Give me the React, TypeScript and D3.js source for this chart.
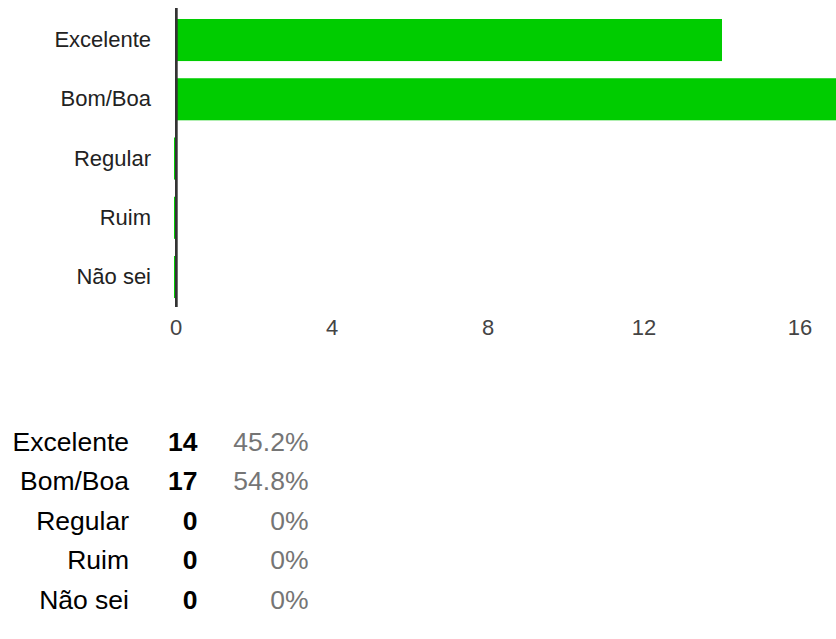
import React from "react";
import * as d3 from "d3";

const categories = ["Excelente", "Bom/Boa", "Regular", "Ruim", "Não sei"];
const counts = [14, 17, 0, 0, 0];
const percents = ["45.2%", "54.8%", "0%", "0%", "0%"];
const ticks = [0, 4, 8, 12, 16];

const W = 836;
const H = 639;
const font = "Arial, 'Liberation Sans', sans-serif";

const App = () => {
  const x = d3.scaleLinear().domain([0, 16]).range([176, 800]);
  const y = d3
    .scaleBand<string>()
    .domain(categories)
    .range([10.4, 306.65])
    .paddingInner(0.29)
    .paddingOuter(0.145);
  const rowY = d3
    .scalePoint<string>()
    .domain(categories)
    .range([451, 608.5]);

  return (
    <svg
      width={W}
      height={H}
      style={{ position: "absolute", left: 0, top: 0, display: "block" }}
      fontFamily={font}
    >
      <rect width={W} height={H} fill="white" />
      {categories.map((c, i) => {
        const v = counts[i];
        const by = y(c) as number;
        const bx = v === 0 ? x(0) - 2 : x(0);
        const bw = v === 0 ? 1.2 : x(v) - x(0);
        return (
          <g key={c}>
            <rect x={bx} y={by} width={bw} height={y.bandwidth()} fill="#00cc00" />
            <text
              x={151}
              y={by + y.bandwidth() / 2 + 7}
              textAnchor="end"
              fontSize={22}
              fill="#222"
            >
              {c}
            </text>
          </g>
        );
      })}
      <rect x={x(0) - 1} y={8} width={2.7} height={299} fill="#333" />
      {ticks.map(t => (
        <text key={t} x={x(t)} y={335} textAnchor="middle" fontSize={22} fill="#444">
          {t}
        </text>
      ))}
      {categories.map((c, i) => (
        <g key={"row" + c} fontSize={26.5}>
          <text x={129} y={rowY(c)} textAnchor="end" fill="#000">
            {c}
          </text>
          <text x={197.5} y={rowY(c)} textAnchor="end" fontWeight="bold" fill="#000">
            {counts[i]}
          </text>
          <text x={308.5} y={rowY(c)} textAnchor="end" fill="#757575">
            {percents[i]}
          </text>
        </g>
      ))}
    </svg>
  );
};

export default App;
